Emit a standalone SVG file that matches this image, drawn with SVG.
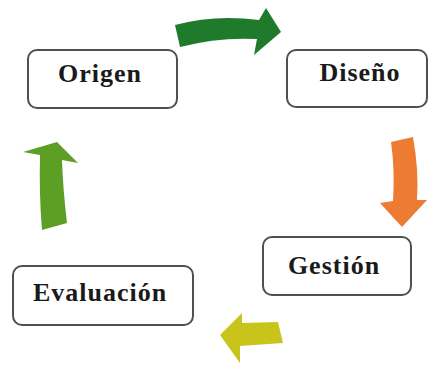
<svg xmlns="http://www.w3.org/2000/svg" width="429" height="366" viewBox="0 0 429 366">
<style>
.box{fill:#fff;stroke:#505050;stroke-width:2}
.lbl{font-family:"Liberation Serif","Times New Roman",serif;font-weight:bold;font-size:26px;fill:#1a1a1a;text-anchor:middle;letter-spacing:1px}
</style>
<rect width="429" height="366" fill="#fff"/>
<g id="connectors">
<path d="M175,25 Q215,14 259,20 L266,8 L281,32 L254,55 L257,39 Q218,37 180,47 Z" fill="#1f7a2c"/>
<path d="M391,142 L413,137 Q419,170 417,200 L427,200 L402,227 L380,203 L393,201 Q395,170 391,142 Z" fill="#ee7b32"/>
<path d="M278,322 L283,343 L240,346 L240,363 L220,335 L242,313 L242,323 Z" fill="#c9c41c"/>
<path d="M42,230 L67,223 Q63,190 62,160 L78,163 L57,142 L23,152 L40,155 Q39,195 42,230 Z" fill="#5c9f24"/>
</g>
<g id="origen"><rect class="box" x="28" y="50" width="149" height="58" rx="9"/><text class="lbl" x="100" y="82">Origen</text></g>
<g id="diseno"><rect class="box" x="287" y="50" width="140" height="57" rx="9"/><text class="lbl" x="360" y="81">Diseño</text></g>
<g id="gestion"><rect class="box" x="263" y="237" width="148" height="58" rx="9"/><text class="lbl" x="334" y="274">Gestión</text></g>
<g id="evaluacion"><rect class="box" x="13" y="266" width="180" height="59" rx="9"/><text class="lbl" x="100" y="301">Evaluación</text></g>
</svg>
